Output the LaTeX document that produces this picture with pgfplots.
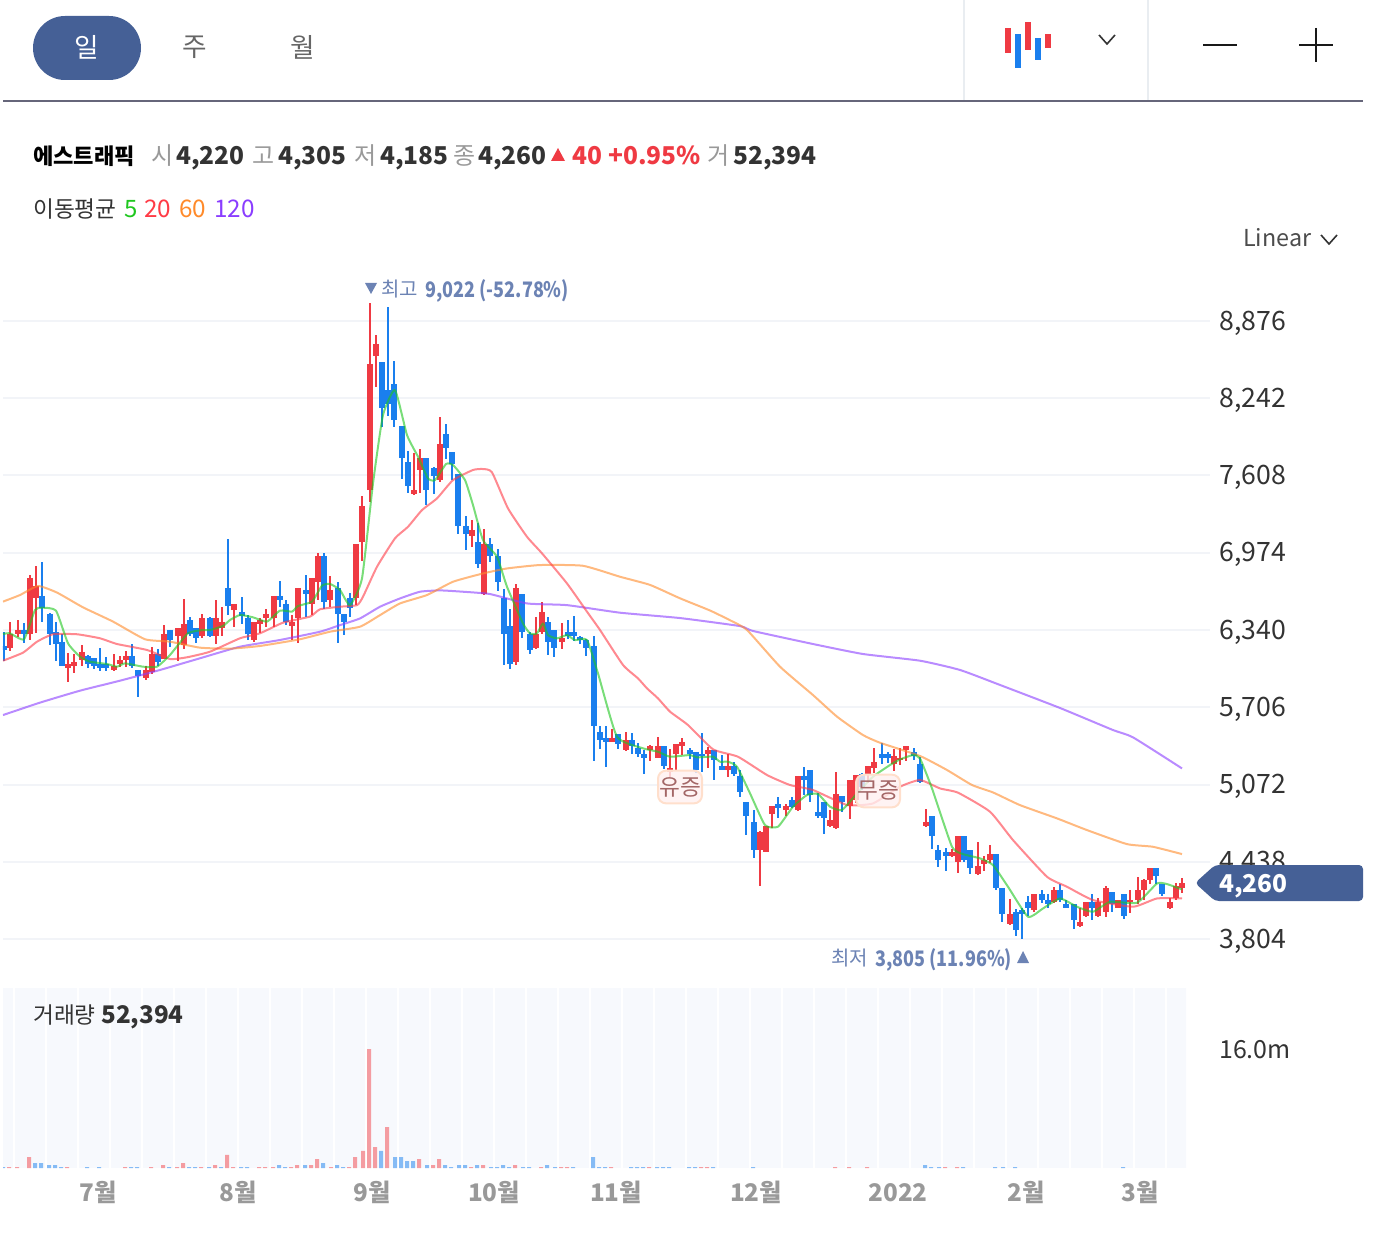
\documentclass[border=0pt]{standalone}
\usepackage{fontspec}
\usepackage{graphicx}
\usepackage{pgfplots}
\usepackage{pgfplotstable}
\pgfplotsset{compat=1.18}
\setmainfont{Noto Sans CJK KR}
\definecolor{cred}{HTML}{EF3A43}
\definecolor{cblue}{HTML}{1A7FEE}
\definecolor{vred}{HTML}{F49CA1}
\definecolor{vblue}{HTML}{85BBF5}
\definecolor{ma5}{HTML}{1FC71F}
\definecolor{ma20}{HTML}{FF3B46}
\definecolor{ma60}{HTML}{FF8A2A}
\definecolor{ma120}{HTML}{8A3DFF}
\definecolor{navy}{HTML}{456096}
\definecolor{anno}{HTML}{6C83B4}
\definecolor{txt}{HTML}{333333}
\definecolor{gry}{HTML}{999999}
\definecolor{gridc}{HTML}{F2F4F8}
\definecolor{stripe}{HTML}{F7F9FD}
\definecolor{sepc}{HTML}{E9EDF1}
\pgfplotstableread{
x top bot high low
10 6305 6192 6409 6170
18 6337 6305 6422 6285
30 6767 6307 6792 6258
36 6701 6600 6865 6313
68 6061 6028 6149 5913
74 6077 6045 6143 5990
82 6160 6094 6214 6045
114 6045 6012 6143 6006
120 6094 6061 6127 6034
126 6127 6094 6170 6039
146 6012 5946 6045 5930
152 6143 5995 6203 5979
164 6307 6099 6384 6099
178 6357 6291 6357 6088
184 6389 6214 6597 6187
202 6439 6291 6471 6274
216 6439 6291 6586 6225
222 6406 6357 6532 6291
234 6554 6504 6554 6367
254 6406 6258 6406 6242
260 6422 6389 6439 6313
266 6471 6439 6515 6362
274 6619 6439 6619 6367
292 6406 6373 6460 6258
298 6685 6439 6685 6231
312 6767 6554 6767 6466
318 6948 6734 6969 6586
330 6668 6586 6783 6526
356 7045 6602 7045 6542
362 7357 7062 7439 6908
370 8523 7488 9022 7390
376 8687 8588 8758 8331
414 7488 7456 7789 7450
420 7751 7653 7822 7466
440 7866 7570 8090 7554
472 7160 7111 7242 7023
484 7045 6635 7166 6629
516 6684 6077 6717 6055
536 6306 6192 6443 6186
542 6487 6323 6569 6306
562 6274 6241 6400 6186
612 5454 5421 5525 5421
626 5437 5355 5503 5350
650 5388 5355 5399 5267
658 5388 5289 5459 5289
670 5207 5174 5361 5136
676 5404 5322 5404 5191
682 5421 5388 5454 5317
708 5355 5322 5377 5207
728 5224 5191 5322 5136
760 4682 4534 4687 4239
766 4731 4518 4731 4518
772 4895 4830 4895 4715
786 4895 4863 4912 4813
798 5142 4863 5142 4857
830 4780 4731 4863 4726
836 4994 4715 5174 4709
850 5109 4895 5109 4791
856 5147 4945 5147 4917
868 5224 5158 5224 5081
874 5257 5207 5371 5164
894 5306 5240 5361 5185
900 5289 5273 5371 5229
906 5388 5355 5388 5262
926 4764 4731 4868 4720
952 4518 4485 4540 4479
958 4649 4436 4649 4348
978 4403 4337 4602 4326
984 4452 4419 4485 4364
990 4501 4452 4578 4425
1010 4009 3927 4129 3916
1034 4173 4042 4173 4025
1054 4206 4107 4233 4102
1080 3943 3910 4058 3905
1086 4107 3992 4107 3987
1098 4107 3992 4140 3987
1106 4222 4025 4239 3987
1118 4124 4058 4124 4058
1130 4124 4107 4206 4014
1138 4206 4124 4310 4091
1144 4288 4206 4293 4124
1150 4386 4288 4386 4255
1170 4107 4058 4140 4047
1176 4239 4140 4260 4124
1182 4260 4220 4305 4185
}\upT
\pgfplotstableread{
x top bot high low
4 6209 6176 6326 6088
24 6337 6305 6400 6231
42 6619 6521 6898 6409
50 6471 6307 6477 6214
56 6324 6225 6409 6088
62 6242 6045 6307 6045
88 6127 6061 6135 6028
94 6110 6045 6110 6017
100 6061 6028 6190 6006
106 6061 6028 6116 6006
132 6127 6045 6225 6028
138 6012 5963 6012 5793
158 6143 6077 6187 6045
170 6340 6258 6340 6203
190 6422 6307 6444 6291
196 6357 6274 6357 6231
210 6439 6291 6444 6285
228 6685 6537 7084 6460
242 6488 6455 6608 6389
248 6439 6307 6463 6258
280 6619 6586 6740 6526
286 6554 6406 6586 6384
306 6668 6636 6789 6444
324 6948 6570 6969 6515
338 6685 6471 6734 6236
344 6471 6406 6471 6296
350 6603 6521 6641 6450
382 8539 8161 8542 8008
388 8309 8194 8988 8096
394 8358 8063 8550 8008
402 8014 7751 8014 7576
408 7718 7521 7806 7466
426 7751 7488 7751 7368
434 7669 7603 7680 7456
446 7948 7833 8027 7740
452 7800 7702 7800 7570
458 7620 7193 7620 7127
466 7193 7127 7275 6996
478 7062 6881 7215 6848
490 7045 6947 7094 6900
498 6947 6733 7007 6662
504 6602 6306 6673 6049
510 6372 6060 6514 6016
522 6635 6323 6635 6274
530 6306 6175 6323 6142
548 6405 6241 6443 6131
554 6339 6192 6339 6115
568 6323 6290 6421 6268
574 6323 6290 6454 6252
580 6285 6257 6290 6224
586 6257 6192 6268 6126
594 6209 5552 6291 5262
600 5503 5437 5552 5361
606 5454 5421 5552 5218
618 5486 5404 5486 5361
632 5437 5388 5492 5322
638 5371 5322 5415 5300
644 5322 5289 5355 5158
664 5388 5224 5388 5196
690 5355 5322 5371 5284
696 5339 5191 5339 5164
702 5322 5306 5492 5174
714 5355 5273 5355 5109
722 5224 5191 5311 5191
734 5224 5158 5257 5142
740 5142 5010 5191 4972
746 4928 4813 4928 4655
754 4764 4534 4863 4469
778 4912 4879 4972 4797
792 4945 4890 4972 4879
804 5142 5109 5218 4983
810 5191 4983 5191 4928
818 4846 4813 5005 4797
824 4928 4797 4928 4666
842 4977 4928 4977 4846
862 5158 5054 5164 5027
882 5322 5289 5410 5240
888 5322 5289 5339 5246
914 5339 5306 5371 5273
920 5240 5092 5295 5081
932 4813 4649 4813 4545
938 4534 4452 4578 4397
946 4518 4485 4550 4359
964 4649 4452 4649 4436
970 4534 4386 4534 4337
996 4501 4222 4501 4206
1002 4222 4009 4222 3943
1016 4025 3877 4052 3828
1022 4042 4009 4058 3805
1028 4107 4058 4157 3992
1042 4173 4124 4206 4096
1048 4124 4091 4173 4058
1060 4206 4124 4255 4107
1066 4091 4058 4124 4058
1074 4091 3959 4091 3888
1092 4107 4058 4173 3959
1112 4189 4091 4189 4025
1124 4173 3992 4173 3970
1156 4386 4321 4386 4255
1162 4255 4173 4255 4157
}\downT
\pgfplotstableread{
x y
3 5642
40 5744
80 5842
120 5924
160 6012
200 6108
240 6203
280 6258
320 6326
340 6380
360 6435
380 6531
400 6599
420 6654
440 6665
463 6654
490 6635
527 6558
567 6544
620 6482
680 6438
740 6372
753 6332
813 6225
863 6143
920 6088
960 6012
1000 5889
1060 5700
1113 5519
1133 5459
1182 5204
}\maA
\pgfplotstableread{
x y
3 6573
20 6627
38 6701
57 6647
83 6526
113 6409
145 6264
170 6244
200 6195
230 6187
260 6209
300 6264
330 6326
360 6367
380 6462
400 6558
427 6627
453 6736
483 6804
507 6845
540 6873
583 6867
620 6777
650 6710
680 6600
710 6500
730 6420
747 6340
780 6039
813 5806
837 5629
863 5478
880 5415
920 5306
947 5191
972 5068
993 5007
1020 4903
1057 4794
1087 4698
1127 4583
1153 4561
1182 4501
}\maB
\pgfplotstableread{
x y
3 6088
23 6154
37 6244
53 6305
77 6305
100 6272
117 6225
147 6176
170 6102
187 6116
210 6162
240 6272
260 6313
283 6400
310 6450
320 6510
340 6531
357 6544
363 6613
377 6859
395 7092
408 7187
422 7324
437 7420
453 7570
473 7653
483 7661
492 7634
508 7338
527 7105
542 6969
567 6722
587 6490
600 6340
623 6053
638 5943
647 5861
658 5779
670 5670
688 5560
713 5361
738 5300
767 5150
790 5068
813 5027
847 4904
873 4917
900 5054
920 5109
940 5040
958 5005
990 4849
1013 4616
1047 4315
1067 4233
1093 4124
1133 4069
1157 4137
1182 4137
}\maC
\pgfplotstableread{
x y
3 6307
10 6313
24 6264
35 6504
42 6523
56 6499
68 6231
80 6121
90 6080
107 6061
117 6039
125 6066
143 6039
157 6039
170 6135
188 6313
203 6340
210 6340
223 6373
230 6422
240 6463
253 6444
267 6409
280 6499
292 6491
298 6537
312 6573
322 6704
330 6718
340 6668
350 6544
362 6763
373 7543
383 8104
395 8309
407 7940
418 7762
428 7584
435 7570
446 7702
453 7694
465 7570
473 7365
483 7078
497 6941
507 6695
523 6394
530 6312
537 6312
543 6394
548 6298
557 6271
567 6298
575 6257
587 6258
598 5984
617 5464
643 5369
658 5341
670 5300
690 5314
697 5295
713 5300
720 5259
728 5259
737 5218
750 5000
765 4739
778 4726
793 4890
807 4986
818 4994
830 4890
842 4863
857 4999
873 5136
890 5232
900 5278
913 5314
920 5286
932 5040
952 4561
963 4501
980 4466
993 4411
1008 4233
1028 3987
1043 4055
1060 4137
1077 4069
1093 4028
1110 4110
1137 4102
1157 4260
1167 4255
1182 4211
}\maD
\pgfplotstableread{
x v
9 .13
17 .13
29 1.48
67 .13
125 .13
151 .13
163 .40
177 .13
183 .67
201 .13
215 .40
227 1.75
233 .13
259 .13
265 .13
273 .13
291 .13
297 .40
311 .40
317 1.21
331 .13
349 .13
355 1.48
363 2.29
369 16.0
375 2.82
387 5.51
419 1.21
433 .40
439 1.21
471 .13
483 .40
515 .40
541 .13
561 .13
567 .13
611 .13
649 .13
701 .13
707 .13
835 .13
849 .13
867 .13
945 .13
957 .13
}\volR
\pgfplotstableread{
x v
3 .13
35 .67
41 .67
49 .40
55 .40
61 .13
87 .13
99 .13
131 .13
137 .13
169 .13
189 .13
195 .13
209 .13
221 .13
241 .13
247 .13
279 .40
285 .13
305 .40
323 .67
337 .40
343 .13
381 2.29
395 1.48
401 1.48
407 .94
413 .94
427 .40
445 .40
451 .13
459 .40
465 .40
477 .40
491 .13
497 .13
503 .40
509 .13
523 .13
529 .13
547 .40
555 .13
573 .13
593 1.48
599 .13
605 .13
631 .13
637 .13
643 .13
657 .13
663 .13
669 .13
689 .13
695 .13
713 .13
753 .13
925 .40
931 .13
939 .13
963 .13
995 .13
1003 .13
1015 .13
1123 .13
}\volB
\newcommand{\candles}[2]{%
  \addplot[draw=none,mark=none,forget plot,error bars/.cd,y dir=both,y explicit,error mark=none,
    error bar style={line width=1.5pt,draw=#2}]
    table[x=x,y=top,y error plus expr=\thisrow{high}-\thisrow{top},y error minus expr=\thisrow{top}-\thisrow{low}]{#1};
  \addplot[draw=none,mark=none,forget plot,error bars/.cd,y dir=minus,y explicit,error mark=none,
    error bar style={line width=4.5pt,draw=#2}]
    table[x=x,y=top,y error minus expr=\thisrow{top}-\thisrow{bot}]{#1};
}
\newcommand{\mline}[2]{\addplot[#2,opacity=.6,line width=1.5pt,mark=none,line join=round,smooth,tension=.3,forget plot] table[x=x,y=y]{#1};}
\begin{document}
\begin{tikzpicture}
\path[use as bounding box] (0,0) rectangle (1038pt,-933pt);
\begin{axis}[
  at={(2.25pt,-712.5pt)},anchor=south west,scale only axis,
  width=905.25pt,height=495pt,
  xmin=3,xmax=1210,ymin=3714,ymax=9130,
  xtick=\empty,
  ytick={3804,4438,5072,5706,6340,6974,7608,8242,8876},
  ymajorgrids,grid style={gridc,line width=1.5pt},
  axis line style={draw=none},major tick length=0pt,
  yticklabel pos=right,
  y tick label style={anchor=west,inner sep=0pt,xshift=6.75pt,yshift=-1.5pt,font=\fontsize{20}{20}\selectfont,text=txt,
    /pgf/number format/.cd,1000 sep={,},assume math mode=true},
  scaled y ticks=false,
]
\candles{\upT}{cred}
\candles{\downT}{cblue}
\mline{\maA}{ma120}
\mline{\maB}{ma60}
\mline{\maC}{ma20}
\mline{\maD}{ma5}
\end{axis}
\begin{axis}[
  at={(2.25pt,-876pt)},anchor=south west,scale only axis,
  width=887.25pt,height=135pt,
  xmin=3,xmax=1186,ymin=0,ymax=24.2,
  xtick={98,238,372,494,616,756,898,1026,1140},
  xticklabels={7월,8월,9월,10월,11월,12월,2022,2월,3월},
  x tick label style={inner sep=0pt,yshift=-9pt,text height=16pt,text depth=0pt,font=\fontsize{18.2}{18}\selectfont\bfseries,text=gry},
  ytick={16},yticklabels={16.0m},
  yticklabel pos=right,
  y tick label style={anchor=west,inner sep=0pt,xshift=24.75pt,yshift=-.75pt,font=\fontsize{18.7}{19}\selectfont,text=txt},
  axis line style={draw=none},major tick length=0pt,
]
\pgfplotsinvokeforeach{0,...,37}{\fill[stripe] (axis cs:{-17+32*#1},0) rectangle (axis cs:{13+32*#1},24.2);}
\addplot[ybar,bar width=3pt,bar shift=0pt,fill=vred,draw=none,forget plot] table[x=x,y=v]{\volR};
\addplot[ybar,bar width=3pt,bar shift=0pt,fill=vblue,draw=none,forget plot] table[x=x,y=v]{\volB};
\end{axis}
\begin{scope}[x=.75pt,y=-.75pt]
% header
\fill[navy,rounded corners=24pt] (33,16) rectangle (141,80);
\node[text=white,font=\fontsize{20}{20}\selectfont] at (87,47) {일};
\node[text=black!60,font=\fontsize{20}{20}\selectfont] at (195,47) {주};
\node[text=black!60,font=\fontsize{20}{20}\selectfont] at (303,47) {월};
\draw[sepc,line width=1.5pt] (964,0)--(964,100) (1148,0)--(1148,100);
\draw[black!60!blue!20!gray,line width=1.5pt] (3,101)--(1363,101);
\fill[cred] (1005,28) rectangle (1011,53);
\fill[cblue] (1015,34) rectangle (1021,68);
\fill[cred] (1025,22) rectangle (1031,50);
\fill[cblue] (1035,38) rectangle (1041,60);
\fill[cred] (1045,34) rectangle (1051,48);
\draw[txt,line width=1.2pt] (1099,35)--(1107,44)--(1115,35);
\draw[black!90,line width=1.5pt] (1203,45)--(1237,45) (1299,45)--(1333,45) (1316,28)--(1316,62);
% title line
\def\tl#1#2#3{\node[anchor=base west,inner sep=0pt,#3] at (#1,164.5) {#2};}
\tikzset{f/.style={font=\fontsize{18.4}{20}\selectfont\bfseries}}
\tikzset{h/.style={font=\fontsize{18}{20}\selectfont}}
\tl{33}{\textbf{에스트래픽}}{font=\fontsize{16.6}{20}\selectfont,text=black}
\tl{151}{시}{h,text=gry}
\tl{176}{4,220}{f,text=txt}
\tl{252}{고}{h,text=gry}
\tl{278}{4,305}{f,text=txt}
\tl{354}{저}{h,text=gry}
\tl{380}{4,185}{f,text=txt}
\tl{453}{종}{h,text=gry}
\tl{478}{4,260}{f,text=txt}
\fill[cred] (551,161)--(558,148)--(565,161)--cycle;
\tl{572}{40}{f,text=cred}
\tl{608}{+0.95\%}{f,text=cred}
\tl{707}{거}{h,text=gry}
\tl{733}{52,394}{f,text=txt}
\def\tmm#1#2#3#4{\node[anchor=base west,inner sep=0pt,font=\fontsize{#4}{20}\selectfont,text=#3] at (#1,218) {#2};}
\tmm{33}{이동평균}{txt}{17}
\tmm{124}{5}{ma5}{18}
\tmm{144}{20}{ma20}{18.2}
\tmm{179}{60}{ma60}{18.2}
\tmm{214}{120}{ma120}{18.2}
\node[anchor=base west,inner sep=0pt,font=\fontsize{17.5}{20}\selectfont,text=black!70] at (1243,247) {Linear};
\draw[txt,line width=1.2pt] (1321,235)--(1329,244)--(1337,235);
% annotations
\fill[anno] (365,283)--(377,283)--(371,294)--cycle;
\node[anchor=base west,inner sep=0pt,font=\fontsize{15}{15}\selectfont,text=anno] at (381,297) {최고};
\node[anchor=base west,inner sep=0pt,font=\fontsize{16}{16}\selectfont\bfseries,text=anno] at (425,298) {\scalebox{.845}[1]{9,022 (-52.78\%)}};
\node[anchor=base west,inner sep=0pt,font=\fontsize{15}{15}\selectfont,text=anno] at (831,965) {최저};
\node[anchor=base west,inner sep=0pt,font=\fontsize{16}{16}\selectfont\bfseries,text=anno] at (875,966) {\scalebox{.845}[1]{3,805 (11.96\%)}};
\fill[anno] (1017,963)--(1029,963)--(1023,951)--cycle;
\node[draw=red!25!orange!20,fill=red!6,fill opacity=.8,draw opacity=1,text opacity=1,text=red!40!black!60,rounded corners=6pt,line width=1.5pt,minimum width=33pt,minimum height=24.5pt,inner sep=0pt,font=\fontsize{17}{17}\selectfont] at (680,787) {유증};
\node[draw=red!25!orange!20,fill=red!6,fill opacity=.8,draw opacity=1,text opacity=1,text=red!40!black!60,rounded corners=6pt,line width=1.5pt,minimum width=33pt,minimum height=24.5pt,inner sep=0pt,font=\fontsize{17}{17}\selectfont] at (878,791) {무증};
% price flag
\fill[navy,rounded corners=3pt] (1195,883)--(1215,865)--(1363,865)--(1363,901)--(1215,901)--cycle;
\node[anchor=base west,inner sep=0pt,font=\fontsize{18.4}{20}\selectfont\bfseries,text=white] at (1219,892) {4,260};
% volume caption
\node[anchor=base west,inner sep=0pt,font=\fontsize{17}{20}\selectfont,text=txt] at (33,1023) {거래량};
\node[anchor=base west,inner sep=0pt,font=\fontsize{18.2}{20}\selectfont\bfseries,text=txt] at (101,1023) {52,394};
\end{scope}
\end{tikzpicture}
\end{document}
